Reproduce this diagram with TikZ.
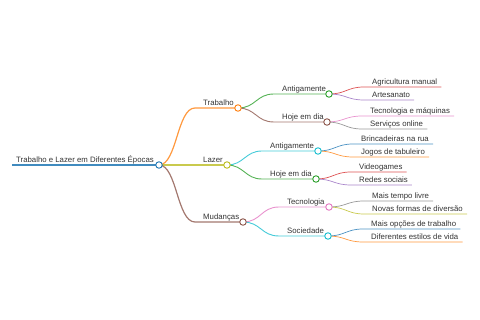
\documentclass[tikz,border=0pt]{standalone}
\usepackage{fontspec}
\setmainfont{Liberation Sans}
\usetikzlibrary{positioning}

\definecolor{mmblue}{HTML}{1F77B4}
\definecolor{mmorange}{HTML}{FF7F0E}
\definecolor{mmgreen}{HTML}{2CA02C}
\definecolor{mmred}{HTML}{D62728}
\definecolor{mmpurple}{HTML}{9467BD}
\definecolor{mmbrown}{HTML}{8C564B}
\definecolor{mmpink}{HTML}{E377C2}
\definecolor{mmgray}{HTML}{7F7F7F}
\definecolor{mmolive}{HTML}{BCBD22}
\definecolor{mmcyan}{HTML}{17BECF}
\definecolor{txtgray}{HTML}{333333}

\tikzset{
    lbl/.style={anchor=south west, inner xsep=0pt, inner ysep=2.5pt, text depth=0pt,
        text=txtgray, font=\fontsize{7.8}{9.4}\selectfont},
    knob/.style={circle, draw=#1, fill=white, line width=0.9pt, minimum size=6.5pt, inner sep=0pt},
    lvlzero/.style={draw=#1, line width=1.5pt, draw opacity=0.85},
    lvlone/.style={draw=#1, line width=1.2pt, draw opacity=0.8},
    lvltwo/.style={draw=#1, line width=0.9pt, draw opacity=0.8},
    lvlthree/.style={draw=#1, line width=0.7pt, draw opacity=0.8},
}

\begin{document}
\begin{tikzpicture}[x=1pt, y=-1pt]
    \useasboundingbox (0,0) rectangle (480,320);

    % Root
    \coordinate (root-in) at (12,165);
    \coordinate (root-out) at (159,165);
    \node[lbl] (root) at (16,165) {Trabalho e Lazer em Diferentes Épocas};
    \draw[lvlzero=mmblue] (root-in) -- (root-out);

    % First level
    \coordinate (trab-in) at (195,108);
    \coordinate (trab-out) at (238,108);
    \node[lbl] (trab) at (203,108) {Trabalho};
    \coordinate (lazer-in) at (195,165);
    \coordinate (lazer-out) at (227,165);
    \node[lbl] (lazer) at (203,165) {Lazer};
    \coordinate (mud-in) at (195,222);
    \coordinate (mud-out) at (243,222);
    \node[lbl] (mud) at (203,222) {Mudanças};

    \draw[lvlone=mmorange] (root-out) .. controls +(18,0) and +(-18,0) .. (trab-in) -- (trab-out);
    \draw[lvlone=mmolive] (root-out) .. controls +(18,0) and +(-18,0) .. (lazer-in) -- (lazer-out);
    \draw[lvlone=mmbrown] (root-out) .. controls +(18,0) and +(-18,0) .. (mud-in) -- (mud-out);

    % Second level
    \coordinate (trab-ant-in) at (274,94);
    \coordinate (trab-ant-out) at (329,94);
    \node[lbl] (trab-ant) at (282,94) {Antigamente};
    \coordinate (trab-hoje-in) at (274,122);
    \coordinate (trab-hoje-out) at (327,122);
    \node[lbl] (trab-hoje) at (282,122) {Hoje em dia};
    \coordinate (laz-ant-in) at (262,151);
    \coordinate (laz-ant-out) at (318,151);
    \node[lbl] (laz-ant) at (270,151) {Antigamente};
    \coordinate (laz-hoje-in) at (262,179);
    \coordinate (laz-hoje-out) at (316,179);
    \node[lbl] (laz-hoje) at (270,179) {Hoje em dia};
    \coordinate (mud-tec-in) at (279,207);
    \coordinate (mud-tec-out) at (329,207);
    \node[lbl] (mud-tec) at (287,207) {Tecnologia};
    \coordinate (mud-soc-in) at (279,236);
    \coordinate (mud-soc-out) at (328,236);
    \node[lbl] (mud-soc) at (287,236) {Sociedade};

    \draw[lvltwo=mmgreen] (trab-out) .. controls +(18,0) and +(-18,0) .. (trab-ant-in) -- (trab-ant-out);
    \draw[lvltwo=mmbrown] (trab-out) .. controls +(18,0) and +(-18,0) .. (trab-hoje-in) -- (trab-hoje-out);
    \draw[lvltwo=mmcyan] (lazer-out) .. controls +(17,0) and +(-17,0) .. (laz-ant-in) -- (laz-ant-out);
    \draw[lvltwo=mmgreen] (lazer-out) .. controls +(17,0) and +(-17,0) .. (laz-hoje-in) -- (laz-hoje-out);
    \draw[lvltwo=mmpink] (mud-out) .. controls +(18,0) and +(-18,0) .. (mud-tec-in) -- (mud-tec-out);
    \draw[lvltwo=mmcyan] (mud-out) .. controls +(18,0) and +(-18,0) .. (mud-soc-in) -- (mud-soc-out);

    % Leaves
    \coordinate (agri-in) at (364,87);
    \node[lbl] (agri) at (372,87) {Agricultura manual};
    \coordinate (artes-in) at (364,100);
    \node[lbl] (artes) at (372,100) {Artesanato};
    \coordinate (tecmaq-in) at (362,116);
    \node[lbl] (tecmaq) at (370,116) {Tecnologia e máquinas};
    \coordinate (serv-in) at (362,129);
    \node[lbl] (serv) at (370,129) {Serviços online};
    \coordinate (brinc-in) at (353,144);
    \node[lbl] (brinc) at (361,144) {Brincadeiras na rua};
    \coordinate (jogos-in) at (353,157);
    \node[lbl] (jogos) at (361,157) {Jogos de tabuleiro};
    \coordinate (video-in) at (351,172);
    \node[lbl] (video) at (359,172) {Videogames};
    \coordinate (redes-in) at (351,185);
    \node[lbl] (redes) at (359,185) {Redes sociais};
    \coordinate (tempo-in) at (364,201);
    \node[lbl] (tempo) at (372,201) {Mais tempo livre};
    \coordinate (novas-in) at (364,214);
    \node[lbl] (novas) at (372,214) {Novas formas de diversão};
    \coordinate (opcoes-in) at (363,229);
    \node[lbl] (opcoes) at (371,229) {Mais opções de trabalho};
    \coordinate (estilos-in) at (363,242);
    \node[lbl] (estilos) at (371,242) {Diferentes estilos de vida};

    \draw[lvlthree=mmred] (trab-ant-out) .. controls +(17,0) and +(-17,0) .. (agri-in) -- ([xshift=4pt]agri.south east);
    \draw[lvlthree=mmpurple] (trab-ant-out) .. controls +(17,0) and +(-17,0) .. (artes-in) -- ([xshift=4pt]artes.south east);
    \draw[lvlthree=mmpink] (trab-hoje-out) .. controls +(17,0) and +(-17,0) .. (tecmaq-in) -- ([xshift=4pt]tecmaq.south east);
    \draw[lvlthree=mmgray] (trab-hoje-out) .. controls +(17,0) and +(-17,0) .. (serv-in) -- ([xshift=4pt]serv.south east);
    \draw[lvlthree=mmblue] (laz-ant-out) .. controls +(17,0) and +(-17,0) .. (brinc-in) -- ([xshift=4pt]brinc.south east);
    \draw[lvlthree=mmorange] (laz-ant-out) .. controls +(17,0) and +(-17,0) .. (jogos-in) -- ([xshift=4pt]jogos.south east);
    \draw[lvlthree=mmred] (laz-hoje-out) .. controls +(17,0) and +(-17,0) .. (video-in) -- ([xshift=4pt]video.south east);
    \draw[lvlthree=mmpurple] (laz-hoje-out) .. controls +(17,0) and +(-17,0) .. (redes-in) -- ([xshift=4pt]redes.south east);
    \draw[lvlthree=mmgray] (mud-tec-out) .. controls +(17,0) and +(-17,0) .. (tempo-in) -- ([xshift=4pt]tempo.south east);
    \draw[lvlthree=mmolive] (mud-tec-out) .. controls +(17,0) and +(-17,0) .. (novas-in) -- ([xshift=4pt]novas.south east);
    \draw[lvlthree=mmblue] (mud-soc-out) .. controls +(17,0) and +(-17,0) .. (opcoes-in) -- ([xshift=4pt]opcoes.south east);
    \draw[lvlthree=mmorange] (mud-soc-out) .. controls +(17,0) and +(-17,0) .. (estilos-in) -- ([xshift=4pt]estilos.south east);

    % Circles on the branching nodes
    \foreach \c/\col in {root/mmblue, trab/mmorange, lazer/mmolive, mud/mmbrown,
        trab-ant/mmgreen, trab-hoje/mmbrown, laz-ant/mmcyan, laz-hoje/mmgreen,
        mud-tec/mmpink, mud-soc/mmcyan} {
        \node[knob=\col] (\c-knob) at (\c-out) {};
    }
\end{tikzpicture}
\end{document}
